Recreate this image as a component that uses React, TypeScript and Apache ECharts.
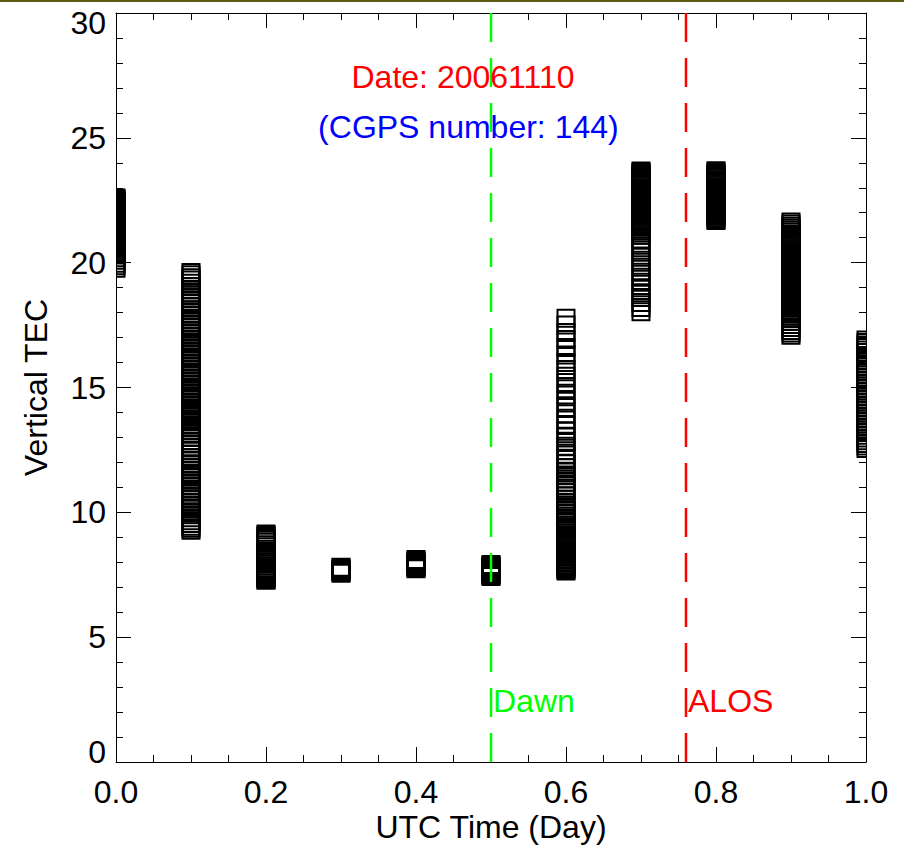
import React, { useEffect, useRef } from "react";
import * as echarts from "echarts";

// ---- data ----
const stackDays = [0.0, 0.1, 0.2, 0.3, 0.4, 0.5, 0.6, 0.7, 0.8, 0.9, 1.0];

const tec00 = [19.78, 19.88, 19.98, 20.1, 20.2, 20.31, 20.4, 20.48, 20.56, 20.63, 20.7, 20.76, 20.81, 20.88, 20.93, 21.0, 21.06, 21.11, 21.18, 21.24, 21.29, 21.36, 21.42, 21.47, 21.54, 21.6, 21.65, 21.72, 21.78, 21.83, 21.9, 21.95, 22.0, 22.05, 22.1, 22.14, 22.2, 22.25, 22.3, 22.34, 22.4, 22.45, 22.5, 22.54, 22.59];
const tec01 = [19.61, 19.52, 19.4, 19.31, 19.18, 19.05, 18.94, 18.8, 18.7, 18.57, 18.45, 18.36, 18.22, 18.1, 17.98, 17.87, 17.74, 17.62, 17.5, 17.4, 17.27, 17.15, 17.03, 16.9, 16.8, 16.66, 16.55, 16.42, 16.3, 16.2, 16.06, 15.95, 15.82, 15.7, 15.6, 15.46, 15.35, 15.22, 15.1, 14.98, 14.85, 14.74, 14.6, 14.5, 14.37, 14.25, 14.12, 14.0, 13.88, 13.75, 13.64, 13.5, 13.38, 13.26, 13.13, 13.0, 12.86, 12.74, 12.6, 12.48, 12.34, 12.2, 12.08, 11.95, 11.82, 11.7, 11.56, 11.44, 11.3, 11.18, 11.05, 10.92, 10.8, 10.66, 10.54, 10.4, 10.28, 10.15, 10.02, 9.9, 9.78, 9.66, 9.55, 9.44, 9.36, 9.28];
const tec02 = [7.28, 7.31, 7.35, 7.38, 7.42, 7.45, 7.5, 7.54, 7.58, 7.62, 7.67, 7.72, 7.78, 7.85, 7.92, 8.0, 8.08, 8.16, 8.25, 8.34, 8.43, 8.52, 8.62, 8.7, 8.8, 8.88, 8.95, 9.03, 9.08, 9.13];
const tec03 = [7.56, 7.6, 7.64, 7.68, 7.72, 7.76, 7.8];
const tec04 = [7.74, 7.78, 7.82, 7.86, 7.9, 7.94, 7.98, 8.02, 8.06, 8.11];
const tec05 = [7.43, 7.47, 7.51, 7.55, 7.59, 7.63, 7.67, 7.71, 7.75, 7.79, 7.83, 7.87, 7.91];
const tec06 = [17.77, 17.5, 17.2, 16.92, 16.6, 16.3, 16.0, 15.72, 15.45, 15.2, 14.95, 14.7, 14.45, 14.2, 13.95, 13.7, 13.48, 13.25, 13.05, 12.85, 12.65, 12.47, 12.3, 12.12, 11.95, 11.8, 11.65, 11.5, 11.35, 11.2, 11.05, 10.9, 10.78, 10.65, 10.52, 10.4, 10.28, 10.16, 10.05, 9.95, 9.85, 9.75, 9.66, 9.57, 9.48, 9.4, 9.32, 9.24, 9.16, 9.08, 9.0, 8.92, 8.85, 8.78, 8.71, 8.64, 8.57, 8.5, 8.44, 8.38, 8.32, 8.26, 8.2, 8.14, 8.08, 8.02, 7.96, 7.9, 7.85, 7.8, 7.75, 7.7, 7.65];
const tec07 = [23.67, 23.62, 23.57, 23.52, 23.47, 23.42, 23.37, 23.31, 23.25, 23.19, 23.13, 23.07, 23.0, 22.94, 22.88, 22.81, 22.75, 22.68, 22.62, 22.55, 22.48, 22.42, 22.35, 22.28, 22.21, 22.14, 22.07, 22.0, 21.93, 21.86, 21.79, 21.72, 21.65, 21.57, 21.5, 21.42, 21.35, 21.27, 21.19, 21.1, 20.95, 20.78, 20.6, 20.42, 20.22, 20.02, 19.82, 19.62, 19.42, 19.22, 19.0, 18.8, 18.6, 18.4, 18.2, 18.03];
const tec08 = [23.68, 23.63, 23.58, 23.53, 23.48, 23.43, 23.38, 23.32, 23.27, 23.21, 23.16, 23.1, 23.04, 22.98, 22.93, 22.87, 22.82, 22.76, 22.7, 22.65, 22.59, 22.53, 22.47, 22.41, 22.35, 22.29, 22.23, 22.17, 22.11, 22.05, 21.99, 21.93, 21.86, 21.8, 21.74, 21.69];
const tec09 = [21.63, 21.55, 21.46, 21.38, 21.3, 21.22, 21.13, 21.05, 20.97, 20.9, 20.83, 20.76, 20.69, 20.62, 20.55, 20.48, 20.41, 20.34, 20.27, 20.2, 20.13, 20.06, 19.99, 19.92, 19.85, 19.78, 19.71, 19.64, 19.57, 19.5, 19.43, 19.36, 19.29, 19.22, 19.15, 19.08, 19.01, 18.94, 18.87, 18.8, 18.73, 18.66, 18.59, 18.52, 18.45, 18.38, 18.31, 18.24, 18.17, 18.1, 18.02, 17.94, 17.85, 17.75, 17.64, 17.52, 17.4, 17.28, 17.18, 17.09];
const tec10 = [16.9, 16.8, 16.7, 16.6, 16.5, 16.4, 16.28, 16.18, 16.06, 15.95, 15.84, 15.73, 15.62, 15.51, 15.4, 15.29, 15.18, 15.07, 14.96, 14.85, 14.74, 14.63, 14.52, 14.41, 14.3, 14.19, 14.08, 13.97, 13.86, 13.75, 13.64, 13.53, 13.42, 13.31, 13.2, 13.09, 12.98, 12.87, 12.76, 12.66, 12.56];

const tecStacks = [tec00, tec01, tec02, tec03, tec04, tec05, tec06, tec07, tec08, tec09, tec10];

const dawnDay = 0.5;
const alosDay = 0.76;
const dateText = "Date: 20061110";
const cgpsText = "(CGPS number: 144)";

const FONT = '"Liberation Sans", Arial, Helvetica, sans-serif';
const FS = 32;

export default function App() {
  const ref = useRef<HTMLDivElement>(null);
  useEffect(() => {
    document.body.style.margin = "0";
    const chart = echarts.init(ref.current as HTMLDivElement, null, { renderer: "svg" });
    const points: number[][] = [];
    stackDays.forEach((d, i) => tecStacks[i].forEach((v) => points.push([d, v])));

    const axisLine = { show: true, onZero: false, lineStyle: { color: "#000", width: 1 } };
    const axisTick = { show: true, inside: true, length: 15, lineStyle: { color: "#000", width: 1 } };
    const labelCommon = { color: "#000", fontSize: FS, fontFamily: FONT };

    chart.setOption({
      animation: false,
      backgroundColor: "#fff",
      grid: { left: 116, top: 13, width: 750, height: 749, containLabel: false, outerBoundsMode: "none" },
      xAxis: [
        {
          type: "value", min: 0, max: 1, interval: 0.2, position: "bottom",
          name: "UTC Time (Day)", nameLocation: "middle", nameGap: 49, nameMoveOverlap: false,
          nameTextStyle: { ...labelCommon, lineHeight: 32 },
          axisLine, axisTick,
          minorTick: { show: true, splitNumber: 4, length: 7, lineStyle: { color: "#000", width: 1 } },
          splitLine: { show: false }, minorSplitLine: { show: false },
          axisLabel: { ...labelCommon, margin: 14, lineHeight: 32, formatter: (v: number) => v.toFixed(1) },
        },
        {
          type: "value", min: 0, max: 1, interval: 0.2, position: "top",
          axisLine, axisTick,
          minorTick: { show: true, splitNumber: 4, length: 7, lineStyle: { color: "#000", width: 1 } },
          splitLine: { show: false }, axisLabel: { show: false },
        },
      ],
      yAxis: [
        {
          type: "value", min: 0, max: 30, interval: 5, position: "left",
          name: "Vertical TEC", nameLocation: "middle", nameGap: 64, nameMoveOverlap: false,
          nameTextStyle: { ...labelCommon, lineHeight: 32 },
          axisLine, axisTick,
          minorTick: { show: true, splitNumber: 5, length: 7, lineStyle: { color: "#000", width: 1 } },
          splitLine: { show: false },
          axisLabel: { ...labelCommon, margin: 10, lineHeight: 20, verticalAlignMinLabel: "bottom", verticalAlignMaxLabel: "top" },
        },
        {
          type: "value", min: 0, max: 30, interval: 5, position: "right",
          axisLine, axisTick,
          minorTick: { show: true, splitNumber: 5, length: 7, lineStyle: { color: "#000", width: 1 } },
          splitLine: { show: false }, axisLabel: { show: false },
        },
      ],
      series: [
        {
          type: "custom",
          xAxisIndex: 0, yAxisIndex: 0,
          clip: true, silent: true,
          data: points,
          encode: { x: 0, y: 1 },
          renderItem: (_params: any, api: any) => {
            const p = api.coord([api.value(0), api.value(1)]);
            const s = 17;
            return {
              type: "rect",
              shape: { x: p[0] - s / 2, y: p[1] - s / 2, width: s, height: s },
              style: { fill: "none", stroke: "#000", lineWidth: 2 },
            };
          },
          z: 2,
        },
        {
          type: "line", xAxisIndex: 0, yAxisIndex: 0, silent: true, symbol: "none",
          data: [[dawnDay, 0], [dawnDay, 30]],
          lineStyle: { color: "#00ff00", width: 2.5, type: [29, 16] },
          z: 5,
        },
        {
          type: "line", xAxisIndex: 0, yAxisIndex: 0, silent: true, symbol: "none",
          data: [[alosDay, 0], [alosDay, 30]],
          lineStyle: { color: "#ff0000", width: 2.5, type: [29, 16] },
          z: 5,
        },
      ],
      graphic: [
        { type: "rect", left: 0, top: 0, shape: { width: 904, height: 2 }, style: { fill: "#5c5c10" }, silent: true },
        {
          type: "text", x: 463, y: 77.2, z: 10,
          style: { text: dateText, fill: "#ff0000", fontSize: FS, fontFamily: FONT, align: "center", verticalAlign: "middle", textAlign: "center", textVerticalAlign: "middle" },
        },
        {
          type: "text", x: 468.4, y: 127.2, z: 10,
          style: { text: cgpsText, fill: "#0000ff", fontSize: FS, fontFamily: FONT, align: "center", verticalAlign: "middle", textAlign: "center", textVerticalAlign: "middle" },
        },
        {
          type: "text", x: 493, y: 700.6, z: 10,
          style: { text: "Dawn", fill: "#00ff00", fontSize: FS, fontFamily: FONT, align: "left", verticalAlign: "middle", textAlign: "left", textVerticalAlign: "middle" },
        },
        {
          type: "text", x: 688, y: 700.6, z: 10,
          style: { text: "ALOS", fill: "#ff0000", fontSize: FS, fontFamily: FONT, align: "left", verticalAlign: "middle", textAlign: "left", textVerticalAlign: "middle" },
        },
      ],
    });
    return () => chart.dispose();
  }, []);
  return <div ref={ref} style={{ width: 904, height: 845 }} />;
}
